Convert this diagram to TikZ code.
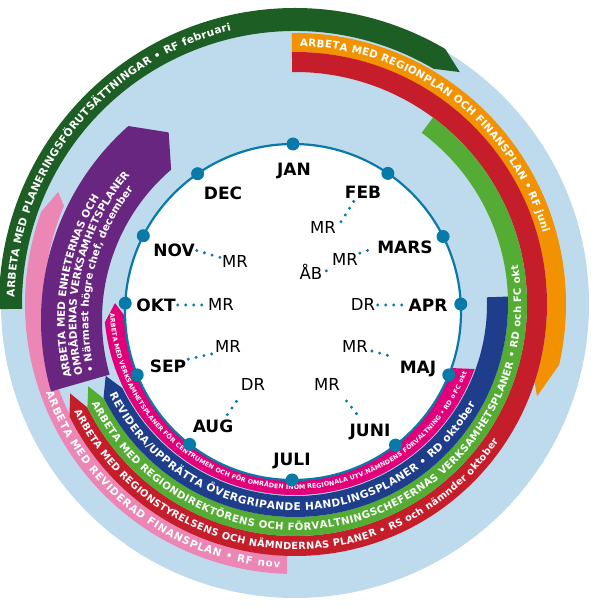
\documentclass[tikz,border=0pt]{standalone}
\usepackage{fontspec}
\setmainfont{DejaVu Sans}
\usetikzlibrary{decorations.text}
\definecolor{lightbg}{RGB}{190,219,237}
\definecolor{dkgreen}{RGB}{28,94,36}
\definecolor{orng}{RGB}{242,146,0}
\definecolor{redb}{RGB}{197,30,42}
\definecolor{grn}{RGB}{84,172,52}
\definecolor{blu}{RGB}{30,62,140}
\definecolor{mag}{RGB}{226,0,122}
\definecolor{pnk}{RGB}{236,134,181}
\definecolor{purp}{RGB}{104,38,128}
\definecolor{dialc}{RGB}{8,122,170}
\newcommand\fDG{\bfseries\fontsize{10.6}{12}\selectfont}
\newcommand\fOR{\bfseries\fontsize{10.4}{12}\selectfont}
\newcommand\fRD{\bfseries\fontsize{9.8}{11}\selectfont}
\newcommand\fGR{\bfseries\fontsize{10.1}{11}\selectfont}
\newcommand\fBL{\bfseries\fontsize{10.6}{12}\selectfont}
\newcommand\fMG{\bfseries\fontsize{6.3}{7}\selectfont}
\newcommand\fPK{\bfseries\fontsize{10.4}{12}\selectfont}
\newcommand\fPU{\bfseries\fontsize{10.4}{12}\selectfont}
\begin{document}
\begin{tikzpicture}[x=1pt,y=1pt,
  month/.style={font=\bfseries\fontsize{17}{17}\selectfont, inner sep=0pt, text height=12.4pt, text depth=0pt},
  lbl/.style={font=\fontsize{16.5}{16.5}\selectfont, inner sep=0pt, text height=12pt, text depth=0pt},
  dotcon/.style={draw=dialc, line width=3.3pt, line cap=round, dash pattern=on 0pt off 8pt},
  bandtxt/.style={decorate, decoration={text along path, text align={fit to path}, text color=white, text={#1}}},
  bandleft/.style={decorate, decoration={text along path, text align=left, text color=white, text={#1}}}
]
\useasboundingbox (-295,-305) rectangle (300,304);
\fill[white] (-295,-305) rectangle (300,304);
\fill[lightbg] (0,0) circle[radius=294];

% outer dark green band
\fill[dkgreen] (181:296) arc[start angle=181,end angle=59.5,radius=296] -- (54.6:284.5) -- (59.5:273) arc[start angle=59.5,end angle=181,radius=273] -- cycle;
% pink band
\fill[pnk] (-91.7:270) arc[start angle=-91.7,end angle=-200,radius=270] -- (-205.3:262) -- (-203:251) arc[start angle=-203,end angle=-91.8,radius=251] -- cycle;
% purple band
\begin{scope}[shift={(5,-16)}]
\fill[purp] (196:259) arc[start angle=196,end angle=131.5,radius=259] -- (125:229) -- (130.6:198) arc[start angle=130.6,end angle=196,radius=198] -- cycle;
\end{scope}
% orange band
\fill[orng] (90.7:271) arc[start angle=90.7,end angle=-13,radius=271] -- (-20.9:259) -- (-18:252) arc[start angle=-18,end angle=90.7,radius=252] -- cycle;
% red band
\fill[redb] (90.7:252) arc[start angle=90.7,end angle=-153.5,radius=252] -- (-158.3:242) -- (-153.5:232) arc[start angle=-153.5,end angle=90.7,radius=232] -- cycle;
% green band
\fill[grn] (53.5:232) arc[start angle=53.5,end angle=-153.5,radius=232] -- (-158.3:222.5) -- (-153.5:213) arc[start angle=-153.5,end angle=53.5,radius=213] -- cycle;
% blue band
\fill[blu] (2:213) arc[start angle=2,end angle=-154,radius=213] -- (-159.2:202.5) -- (-154:192) arc[start angle=-154,end angle=2,radius=192] -- cycle;
% magenta band
\fill[mag] (-19.9:191) arc[start angle=-19.9,end angle=-174.5,radius=191] -- (-180.3:180) -- (-174.5:168) arc[start angle=-174.5,end angle=-22.4,radius=168] -- cycle;

% band texts
\path[bandtxt={|\fDG|ARBETA MED PLANERINGSFÖRUTSÄTTNINGAR • RF februari}] (178.6:280.6) arc[start angle=178.6,end angle=103.2,radius=280.6];
\path[bandtxt={|\fOR|ARBETA MED REGIONPLAN OCH FINANSPLAN • RF juni}] (88.9:257.7) arc[start angle=88.9,end angle=16,radius=257.7];
\path[bandtxt={|\fRD|ARBETA MED REGIONSTYRELSENS OCH NÄMNDERNAS PLANER • RS och nämnder oktober}] (-154:245.6) arc[start angle=-154,end angle=-34,radius=245.6];
\path[bandtxt={|\fGR|ARBETA MED REGIONDIREKTÖRENS OCH FÖRVALTNINGSCHEFERNAS VERKSAMHETSPLANER • RD och FC okt}] (-154:226.2) arc[start angle=-154,end angle=10,radius=226.2];
\path[bandtxt={|\fBL|REVIDERA/UPPRÄTTA ÖVERGRIPANDE HANDLINGSPLANER • RD oktober}] (-154:206.4) arc[start angle=-154,end angle=-29,radius=206.4];
\path[bandtxt={|\fMG|ARBETA MED VERKSAMHETSPLANER FÖR CENTRUMEN OCH FÖR OMRÅDEN INOM REGIONALA UTV.NÄMNDENS FÖRVALTNING • RD o FC okt}] (183:185.3) arc[start angle=183,end angle=338,radius=185.3];
\path[bandtxt={|\fPK|ARBETA MED REVIDERAD FINANSPLAN • RF nov}] (199.6:264.3) arc[start angle=199.6,end angle=266.7,radius=264.3];
\begin{scope}[shift={(5,-16)}]
\path[bandleft={|\fPU|ARBETA MED ENHETERNAS OCH}] (194:235.2) arc[start angle=194,end angle=120,radius=235.2];
\path[bandleft={|\fPU|OMRÅDENAS VERKSAMHETSPLANER}] (194:223.6) arc[start angle=194,end angle=120,radius=223.6];
\path[bandleft={|\fPU|• Närmast högre chef, december}] (194:211.6) arc[start angle=194,end angle=120,radius=211.6];
\end{scope}

% dial
\draw[dialc, line width=2.2pt, fill=white] (-2,-8) circle[radius=168];
\foreach \a in {90,55.6,26.7,2.7,-22,-52.4,-90.3,-128,-158,177,153,124.6}
  \fill[dialc, shift={(-2,-8)}] (\a:168) circle[radius=6.5];

% month labels
\node[month] (jan) at (-1,135) {JAN};
\node[month] (feb) at (68,112) {FEB};
\node[month] (mars) at (110,57) {MARS};
\node[month] (apr) at (133,-1) {APR};
\node[month] (maj) at (123,-63) {MAJ};
\node[month] (juni) at (75,-126) {JUNI};
\node[month] (juli) at (-3,-155) {JULI};
\node[month] (aug) at (-82,-122) {AUG};
\node[month] (sep) at (-127,-62) {SEP};
\node[month] (okt) at (-139,-1) {OKT};
\node[month] (nov) at (-121,54) {NOV};
\node[month] (dec) at (-72,111) {DEC};

% meeting labels
\node[lbl] (febmr) at (28,76) {MR};
\node[lbl] (marsmr) at (50,44) {MR};
\node[lbl] (ab) at (16,30) {ÅB};
\node[lbl] (aprdr) at (68,-1) {DR};
\node[lbl] (majmr) at (60,-43) {MR};
\node[lbl] (junimr) at (32,-81) {MR};
\node[lbl] (augdr) at (-42,-81) {DR};
\node[lbl] (sepmr) at (-67,-43) {MR};
\node[lbl] (oktmr) at (-74,-1) {MR};
\node[lbl] (novmr) at (-60,42) {MR};

% dotted connectors
\draw[dotcon] ([xshift=5pt]febmr.north east) -- ([xshift=9pt,yshift=-3pt]feb.south west);
\draw[dotcon, shorten <=2pt, shorten >=4pt] (marsmr.north east) -- (mars.west);
\draw[dotcon, shorten <=5pt, shorten >=5pt] (ab.east) -- (marsmr.south west);
\draw[dotcon, shorten <=2.5pt, shorten >=5pt] (aprdr.east) -- (apr.west);
\draw[dotcon, shorten <=4pt, shorten >=5pt] ([yshift=-3pt]majmr.east) -- ([yshift=2pt]maj.north west);
\draw[dotcon] ([xshift=7pt,yshift=10pt]juni.north west) -- ([xshift=2pt,yshift=-4pt]junimr.south east);
\draw[dotcon] ([xshift=-6pt,yshift=5pt]aug.north east) -- ([yshift=-4pt]augdr.south west);
\draw[dotcon, shorten <=2pt, shorten >=3pt] (sep.north east) -- (sepmr.south west);
\draw[dotcon, shorten <=2pt, shorten >=3pt] (okt.east) -- (oktmr.west);
\draw[dotcon, shorten <=2pt, shorten >=2pt] (nov.east) -- ([yshift=4pt]novmr.west);
\end{tikzpicture}
\end{document}
